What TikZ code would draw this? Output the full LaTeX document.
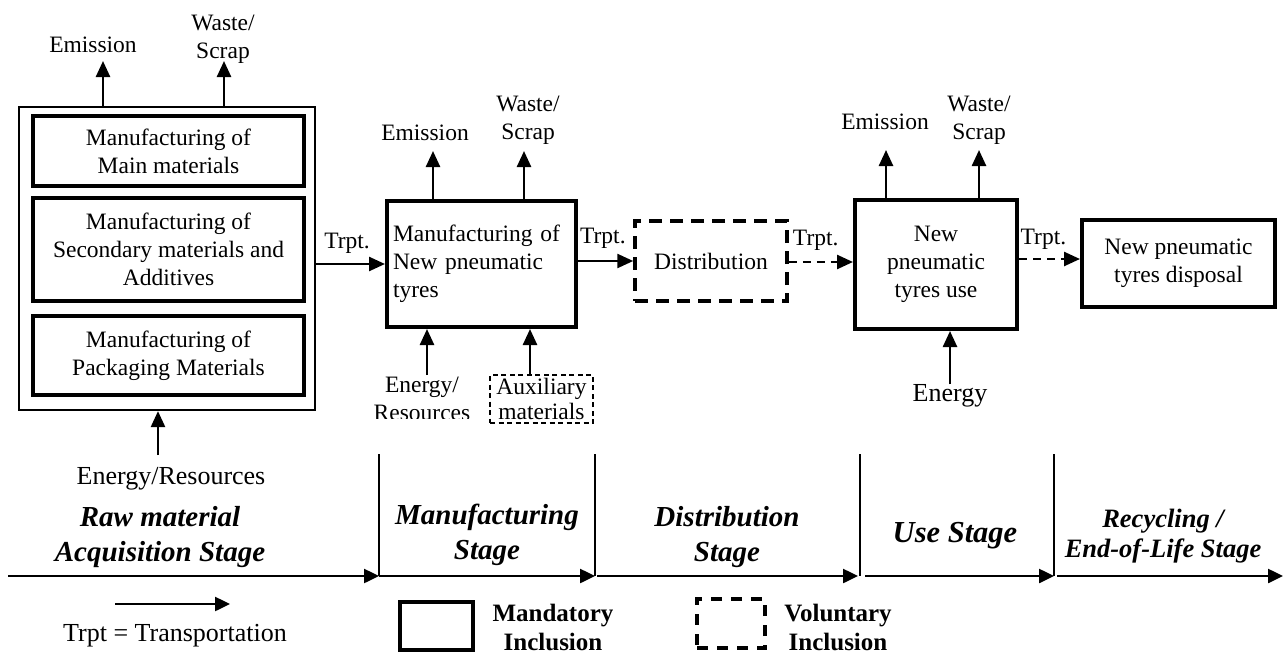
\documentclass[tikz,border=0pt]{standalone}
\usepackage{fontspec}
\setmainfont{Liberation Serif}
\usetikzlibrary{arrows.meta}
\begin{document}
\begin{tikzpicture}[x=1pt,y=-1pt,
  txt/.style={font=\fontsize{23.5}{28}\selectfont, inner sep=0pt, align=center},
  big/.style={font=\fontsize{26}{30}\selectfont, inner sep=0pt, align=center},
  stage/.style={font=\fontsize{29}{35}\selectfont\bfseries\itshape, inner sep=0pt, align=center},
  legend/.style={font=\fontsize{25}{29}\selectfont\bfseries, inner sep=0pt, align=center},
  thinbox/.style={draw, line width=2.2pt, inner sep=0pt},
  thickbox/.style={draw, line width=4pt, inner sep=0pt, align=center, font=\fontsize{23.5}{28}\selectfont},
  dashbox/.style={draw, line width=3.5pt, dash pattern=on 13pt off 8pt, inner sep=0pt, align=center, font=\fontsize{23.5}{28}\selectfont},
  smalldash/.style={draw, line width=1.8pt, dash pattern=on 5pt off 3.5pt, inner sep=0pt, align=center, font=\fontsize{23.5}{25}\selectfont},
  flow/.style={line width=2.5pt, -{Triangle[length=16pt,width=14pt]}},
  dflow/.style={flow, dash pattern=on 8pt off 6pt},
  axis/.style={line width=2.5pt, -{Triangle[length=15pt,width=14pt]}},
  sep/.style={line width=2pt}
]
\useasboundingbox (0,0) rectangle (1283,653);

% ---------- Raw material stage ----------
\node[thinbox, minimum width=296pt, minimum height=303pt] (raw) at (167,258.5) {};
\node[thickbox, minimum width=271pt, minimum height=70pt] (mainmat) at (168.5,151) {Manufacturing of\\Main materials};
\node[thickbox, minimum width=271pt, minimum height=103pt] (secmat) at (168.5,249.5) {Manufacturing of\\Secondary materials and\\Additives};
\node[thickbox, minimum width=271pt, minimum height=79pt] (packmat) at (168.5,355.5) {Manufacturing of\\Packaging Materials};

\node[txt] (em1) at (93,45) {Emission};
\node[txt] (ws1) at (223,39) {Waste/\\Scrap};
\node[big] (er1) at (171,479) {Energy/Resources};
\coordinate (em1t) at (103,61);
\coordinate (ws1t) at (224,61);
\coordinate (er1b) at (158,455);
\draw[flow] (raw.north -| em1t) -- (em1t);
\draw[flow] (raw.north -| ws1t) -- (ws1t);
\draw[flow] (er1b) -- (raw.south -| er1b);

% ---------- Manufacturing stage ----------
\node[thickbox, align=left, text width=177pt, inner xsep=6pt, minimum height=126pt] (mfg) at (481.5,264) {Manufacturing of\\New pneumatic\\tyres};
\draw[flow] (raw.east |- mfg.west) -- node[txt, above=9pt, pos=0.45] (t1) {Trpt.} (mfg.west);

\node[txt] (em2) at (425,133) {Emission};
\node[txt] (ws2) at (528,120) {Waste/\\Scrap};
\coordinate (em2t) at (433,151);
\coordinate (ws2t) at (524,151);
\draw[flow] (mfg.north -| em2t) -- (em2t);
\draw[flow] (mfg.north -| ws2t) -- (ws2t);

\begin{scope}
\clip (350,365) rectangle (488,418);
\node[txt] (er2) at (422,399) {Energy/\\Resources};
\end{scope}
\coordinate (er2b) at (427,375);
\draw[flow] (er2b) -- (mfg.south -| er2b);

\node[smalldash, minimum width=103pt, minimum height=48pt] (aux) at (541.5,399) {Auxiliary\\materials};
\draw[flow] (aux.north -| 530,0) -- (mfg.south -| 530,0);

% ---------- Distribution ----------
\node[dashbox, minimum width=152pt, minimum height=80pt] (dist) at (711,261) {Distribution};
\draw[flow] (mfg.east |- dist.west) -- node[txt, above=11pt, pos=0.45] (t2) {Trpt.} (dist.west);

% ---------- Use ----------
\node[thickbox, minimum width=162pt, minimum height=129pt] (use) at (936,264.5) {New\\pneumatic\\tyres use};
\draw[dflow] (dist.east |- 0,262) -- node[txt, above=10pt, pos=0.42] (t3) {Trpt.} (use.west |- 0,262);

\node[txt] (em3) at (885,122) {Emission};
\node[txt] (ws3) at (979,120) {Waste/\\Scrap};
\coordinate (em3t) at (886,150);
\coordinate (ws3t) at (979,150);
\draw[flow] (use.north -| em3t) -- (em3t);
\draw[flow] (use.north -| ws3t) -- (ws3t);

\node[big] (en3) at (950,396) {Energy};
\draw[flow] (en3.north) -- (use.south -| en3.north);

% ---------- Disposal ----------
\node[thickbox, minimum width=193pt, minimum height=87pt] (disp) at (1178.5,263.5) {New pneumatic\\tyres disposal};
\draw[dflow] (use.east |- 0,259) -- node[txt, above=8pt, pos=0.4] (t4) {Trpt.} (disp.west |- 0,259);

% ---------- Stage axis ----------
\coordinate (a0) at (8,576);
\coordinate (a1) at (379,576);
\coordinate (a2) at (595,576);
\coordinate (a3) at (860,576);
\coordinate (a4) at (1054,576);
\coordinate (a5) at (1283,576);
\coordinate (v1) at (379,454);
\coordinate (v2) at (595,454);
\coordinate (v3) at (860,454);
\coordinate (v4) at (1054,454);
\draw[sep] (v1) -- (a1);
\draw[sep] (v2) -- (a2);
\draw[sep] (v3) -- (a3);
\draw[sep] (v4) -- (a4);
\draw[axis] (a0) -- (a1);
\draw[axis] (a1) -- (a2);
\draw[axis] ([xshift=2pt]a2) -- ([xshift=-2pt]a3);
\draw[axis] ([xshift=5pt]a3) -- (a4);
\draw[axis] ([xshift=3pt]a4) -- (a5);

\node[stage] (s1) at (160,537) {Raw material\\Acquisition Stage};
\node[stage] (s2) at (487,535) {Manufacturing\\Stage};
\node[stage] (s3) at (727,537) {Distribution\\Stage};
\node[stage, font=\fontsize{30.5}{35}\selectfont\bfseries\itshape] (s4) at (955,536) {Use Stage};
\node[stage, font=\fontsize{26.5}{30}\selectfont\bfseries\itshape] (s5) at (1163,536) {Recycling /\\End-of-Life Stage};

% ---------- Legend ----------
\coordinate (l0) at (115,604);
\coordinate (l1) at (230,604);
\draw[axis] (l0) -- (l1);
\node[big] (lt) at (175,636) {Trpt = Transportation};
\node[draw, line width=3.5pt, minimum width=73pt, minimum height=48pt, inner sep=0pt] (mand) at (436.5,626) {};
\node[legend] (mandt) at (553,627) {Mandatory\\Inclusion};
\node[draw, line width=3.5pt, dash pattern=on 11pt off 9pt, minimum width=68pt, minimum height=49pt, inner sep=0pt] (vol) at (731,623.5) {};
\node[legend] (volt) at (838,627) {Voluntary\\Inclusion};
\end{tikzpicture}
\end{document}
